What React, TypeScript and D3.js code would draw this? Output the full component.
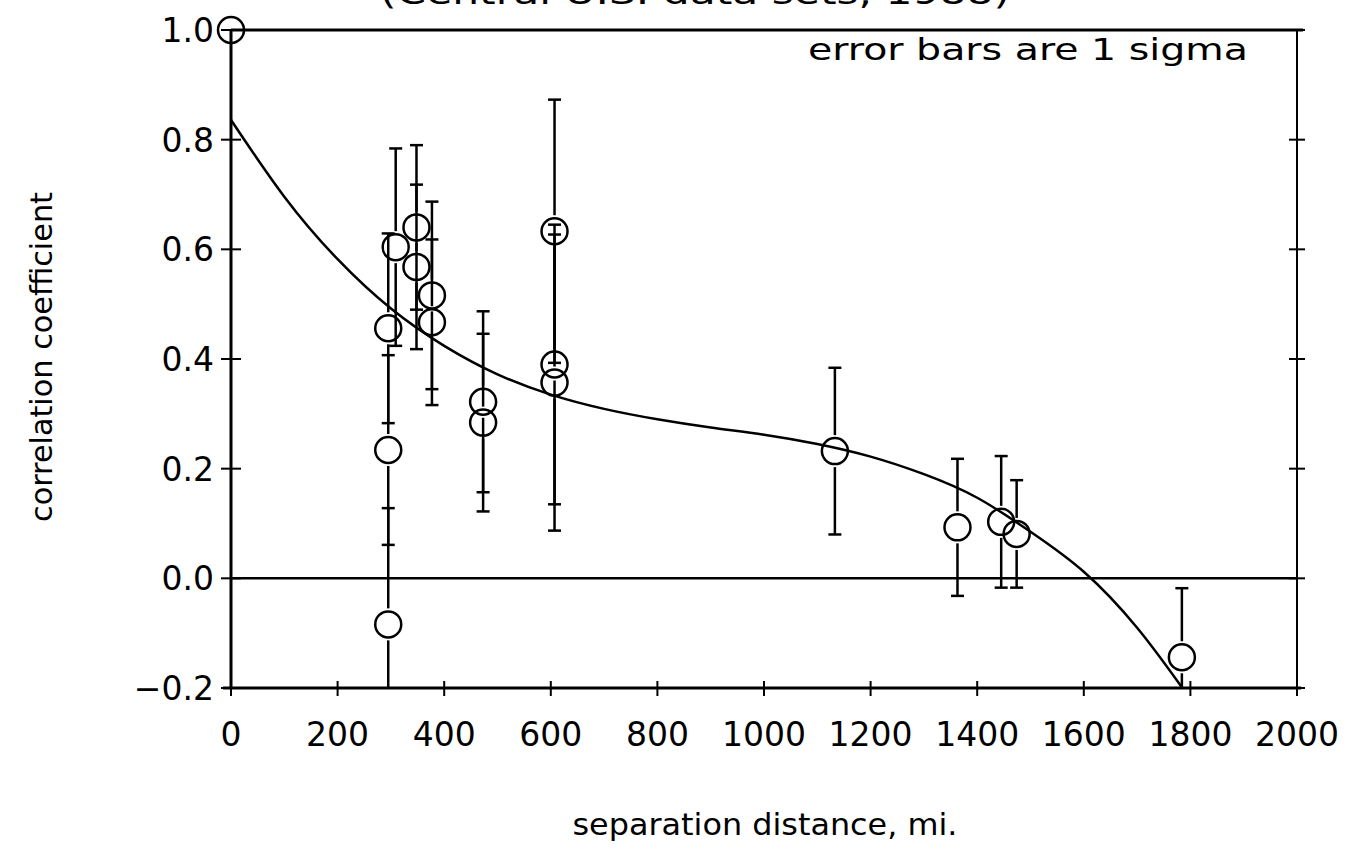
import React from "react";
import * as d3 from "d3";

// ---- data ----
const distances = [0, 295, 295, 295, 309, 348, 348, 377, 377, 473, 473, 607, 607, 607, 1133, 1363, 1445, 1474, 1784];
const correlations = [1.0, -0.084, 0.234, 0.456, 0.604, 0.640, 0.568, 0.516, 0.467, 0.322, 0.284, 0.633, 0.390, 0.357, 0.232, 0.093, 0.103, 0.081, -0.144];
const sigmas = [0, 0.212, 0.173, 0.173, 0.18, 0.15, 0.15, 0.171, 0.151, 0.165, 0.162, 0.24, 0.255, 0.27, 0.152, 0.125, 0.12, 0.098, 0.126];

const fitDistances = [0, 100, 200, 300, 400, 500, 600, 700, 800, 900, 1000, 1100, 1200, 1300, 1400, 1500, 1600, 1700, 1785];
const fitValues = [0.836, 0.696, 0.582, 0.492, 0.424, 0.372, 0.335, 0.309, 0.29, 0.275, 0.262, 0.245, 0.222, 0.19, 0.147, 0.085, 0.012, -0.09, -0.2];

const xTicks = [0, 200, 400, 600, 800, 1000, 1200, 1400, 1600, 1800, 2000];
const yTicks = [-0.2, 0.0, 0.2, 0.4, 0.6, 0.8, 1.0];

const titleText = "(Central U.S. data sets, 1988)";
const xLabel = "separation distance, mi.";
const yLabel = "correlation coefficient";
const noteText = "error bars are 1 sigma";

export default function App() {
  const W = 1360, H = 854;
  const x = d3.scaleLinear().domain([0, 2000]).range([231, 1297]);
  const y = d3.scaleLinear().domain([-0.2, 1.0]).range([688, 30]);
  const font = "'DejaVu Sans', sans-serif";
  const r = 13;
  const gap = 3;
  const cap = 6.5;

  const line = d3
    .line<number>()
    .x((_, i) => x(fitDistances[i]))
    .y((d) => y(d))
    .curve(d3.curveNatural);

  const yMin = y.range()[0];
  const yMax = y.range()[1];
  const clampY = (v: number) => Math.max(yMax, Math.min(yMin, v));

  return (
    <svg width={W} height={H} style={{ position: "absolute", left: 0, top: 0, background: "#fff" }}>
      <rect width={W} height={H} fill="#fff" />
      {/* title, mostly cut off at the top as in the reference */}
      <text x={380} y={4} fontFamily={font} fontSize={32} textLength={630} lengthAdjust="spacingAndGlyphs">
        {titleText}
      </text>

      {/* frame */}
      <g stroke="#000" strokeWidth={3} fill="none">
        <line x1={x(0)} x2={x(2000) + 6} y1={y(1)} y2={y(1)} />
        <line x1={x(0) - 8} x2={x(2000) + 4} y1={y(-0.2)} y2={y(-0.2)} />
        <line x1={x(0)} x2={x(0)} y1={y(1)} y2={y(-0.2)} />
        <line x1={x(2000)} x2={x(2000)} y1={y(1)} y2={y(-0.2)} strokeWidth={2} />
        <line x1={x(0)} x2={x(2000)} y1={y(0)} y2={y(0)} strokeWidth={2.5} />
      </g>

      {/* ticks */}
      <g stroke="#000" strokeWidth={2}>
        {xTicks.map((t) => (
          <line key={"xt" + t} x1={x(t)} x2={x(t)} y1={y(-0.2) - 7} y2={y(-0.2) + 8} />
        ))}
        {yTicks.map((t) => (
          <line key={"yl" + t} x1={x(0) - 10} x2={x(0) + 10} y1={y(t)} y2={y(t)} />
        ))}
        {yTicks.map((t) => (
          <line key={"yr" + t} x1={x(2000) - 8} x2={x(2000) + 8} y1={y(t)} y2={y(t)} />
        ))}
      </g>

      {/* tick labels */}
      <g fontFamily={font} fontSize={33} fill="#000">
        {xTicks.map((t) => (
          <text key={"xl" + t} x={x(t)} y={746} textAnchor="middle">
            {String(t)}
          </text>
        ))}
        {yTicks.map((t) => (
          <text key={"yl" + t} x={214} y={y(t) + 12} textAnchor="end">
            {t < 0 ? "\u2212" + Math.abs(t).toFixed(1) : t.toFixed(1)}
          </text>
        ))}
      </g>

      {/* axis labels */}
      <text x={765} y={835} textAnchor="middle" fontFamily={font} fontSize={30} textLength={385} lengthAdjust="spacingAndGlyphs">
        {xLabel}
      </text>
      <text
        transform={`translate(52,357) rotate(-90)`}
        textAnchor="middle"
        fontFamily={font}
        fontSize={30}
        textLength={330}
        lengthAdjust="spacingAndGlyphs"
      >
        {yLabel}
      </text>
      <text x={808} y={60} fontFamily={font} fontSize={30} textLength={440} lengthAdjust="spacingAndGlyphs">
        {noteText}
      </text>

      {/* fitted curve */}
      <path d={line(fitValues) || ""} fill="none" stroke="#000" strokeWidth={2.5} />

      {/* error bars */}
      <g stroke="#000" strokeWidth={2.5}>
        {distances.map((d, i) => {
          const s = sigmas[i];
          if (!s) return null;
          const cx = x(d);
          const cy = y(correlations[i]);
          const top = y(correlations[i] + s);
          const botRaw = y(correlations[i] - s);
          const bot = clampY(botRaw);
          const topC = clampY(top);
          return (
            <g key={"eb" + i}>
              <line x1={cx} x2={cx} y1={cy - r - gap} y2={topC} />
              {top >= yMax && <line x1={cx - cap} x2={cx + cap} y1={top} y2={top} />}
              {cy + r + gap < bot && <line x1={cx} x2={cx} y1={cy + r + gap} y2={bot} />}
              {botRaw <= yMin && <line x1={cx - cap} x2={cx + cap} y1={botRaw} y2={botRaw} />}
            </g>
          );
        })}
      </g>

      {/* points */}
      <g fill="none" stroke="#000" strokeWidth={2.5}>
        {distances.map((d, i) => (
          <circle key={"pt" + i} cx={x(d)} cy={y(correlations[i])} r={r} />
        ))}
      </g>
    </svg>
  );
}
